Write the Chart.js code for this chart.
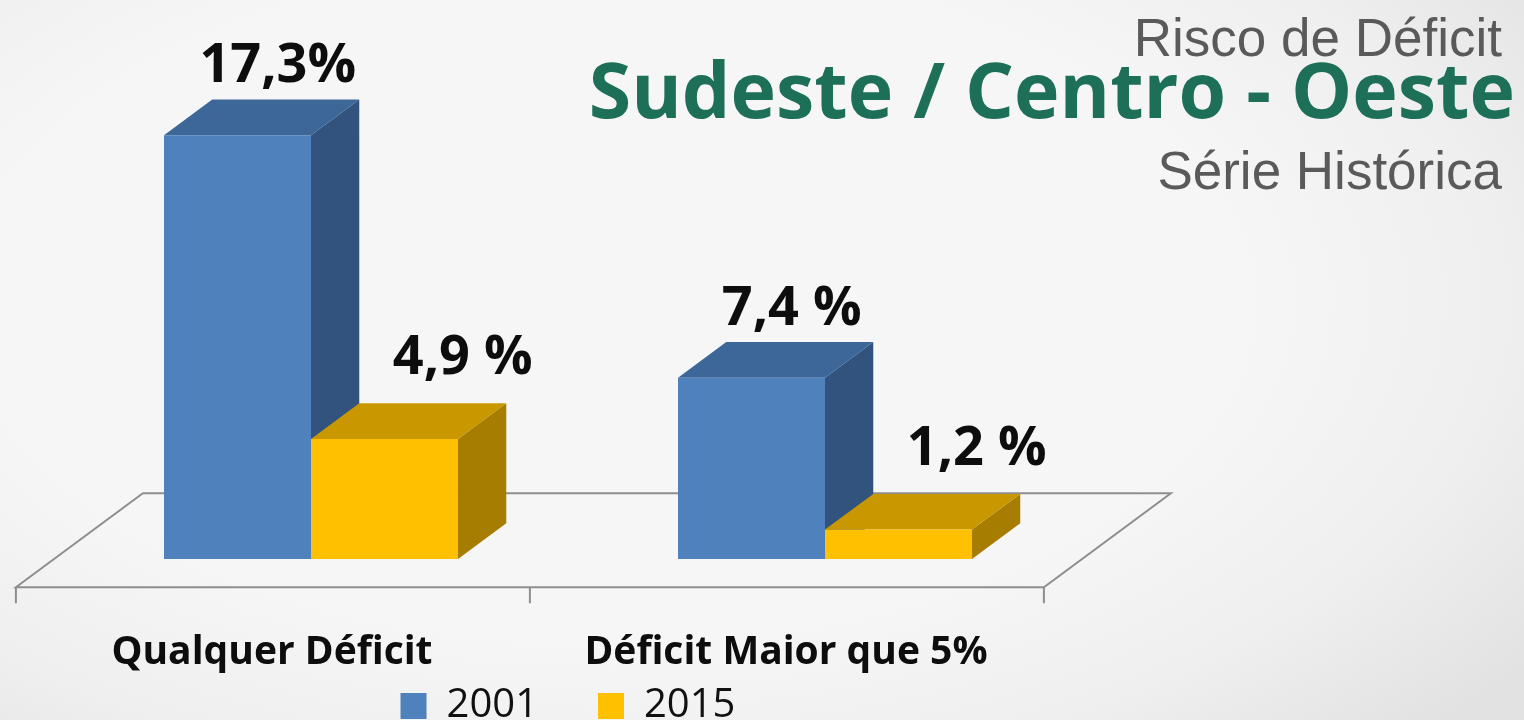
<!DOCTYPE html>
<html>
<head>
<meta charset="utf-8">
<script src="https://cdn.jsdelivr.net/npm/chart.js@4.4.1/dist/chart.umd.min.js"></script>
<style>
  html, body { margin:0; padding:0; }
  body {
    width:1524px; height:720px; overflow:hidden; position:relative;
    background: radial-gradient(ellipse 75% 85% at 40% 42%, #F6F6F6 55%, #EFEFEF 78%, #E2E2E2 100%);
  }
  #c { position:absolute; left:0; top:0; }
  .t { position:absolute; white-space:nowrap; text-align:right; }
  .gray { font-family:"Liberation Sans", Arial, sans-serif; font-size:53px; line-height:53px; color:#5A5A5A; right:22px; }
  .green { font-family:"Open Sans", sans-serif; font-weight:700; font-size:77px; line-height:77px; color:#1D6F58; right:9px; }
</style>
</head>
<body>
<canvas id="c" width="1524" height="720"></canvas>
<div class="t gray" style="top:11px;">Risco de Déficit</div>
<div class="t green" style="top:50px;">Sudeste / Centro - Oeste</div>
<div class="t gray" style="top:144px;">Série Histórica</div>
<script>
// ---- data ----
const categories = ['Qualquer Déficit', 'Déficit Maior que 5%'];
const seriesNames = ['2001', '2015'];
const values2001 = [17.3, 7.4];
const values2015 = [4.9, 1.2];
const valueLabels2001 = ['17,3%', '7,4 %'];
const valueLabels2015 = ['4,9 %', '1,2 %'];
const yMin = 0, yMax = 20;

// ---- 3D look (style) ----
const DEPTH_X = 127, DEPTH_Y = -94;   // full floor depth vector
const FRONT_FRAC = 0.30;              // bars' front face distance from floor front
const BAR_FRAC = 0.38;                // bar depth as fraction of floor depth

const threeD = {
  id: 'threeD',
  afterLayout(chart) {
    // let the category labels extend below the axis box (they sit beside the legend)
    chart.scales.x.bottom = chart.height;
  },
  beforeDatasetsDraw(chart) {
    const ctx = chart.ctx, xs = chart.scales.x, ys = chart.scales.y;
    const base = ys.getPixelForValue(0);
    const fx = -DEPTH_X * FRONT_FRAC, fy = -DEPTH_Y * FRONT_FRAC;
    const bx = DEPTH_X * (1 - FRONT_FRAC), by = DEPTH_Y * (1 - FRONT_FRAC);
    const n = chart.data.labels.length;
    const L = xs.getPixelForValue(-0.5), R = xs.getPixelForValue(n - 0.5);
    ctx.save();
    ctx.strokeStyle = '#8E8E8E';
    ctx.lineWidth = 2;
    ctx.lineJoin = 'miter';
    ctx.beginPath();
    ctx.moveTo(L + fx, base + fy);
    ctx.lineTo(L + bx, base + by);
    ctx.lineTo(R + bx, base + by);
    ctx.lineTo(R + fx, base + fy);
    ctx.closePath();
    for (let i = 0; i <= n; i++) {
      const x = xs.getPixelForValue(i - 0.5) + fx;
      ctx.moveTo(x, base + fy);
      ctx.lineTo(x, base + fy + 16);
    }
    ctx.stroke();
    // side and top faces, drawn back-to-front (left to right)
    const dx = DEPTH_X * BAR_FRAC, dy = DEPTH_Y * BAR_FRAC;
    for (let j = 0; j < n; j++) {
      chart.data.datasets.forEach((ds, i) => {
        const el = chart.getDatasetMeta(i).data[j];
        const l = el.x - el.width / 2, r = el.x + el.width / 2, t = el.y, b = el.base;
        ctx.fillStyle = ds.sideColor;
        ctx.beginPath();
        ctx.moveTo(r, t); ctx.lineTo(r + dx, t + dy); ctx.lineTo(r + dx, b + dy); ctx.lineTo(r, b);
        ctx.closePath(); ctx.fill();
        ctx.fillStyle = ds.topColor;
        ctx.beginPath();
        ctx.moveTo(l, t); ctx.lineTo(r, t); ctx.lineTo(r + dx, t + dy); ctx.lineTo(l + dx, t + dy);
        ctx.closePath(); ctx.fill();
      });
    }
    ctx.restore();
  },
  afterDatasetsDraw(chart) {
    const ctx = chart.ctx;
    const dx = DEPTH_X * BAR_FRAC, dy = DEPTH_Y * BAR_FRAC;
    ctx.save();
    ctx.font = 'bold 54px "Open Sans"';
    ctx.fillStyle = '#0D0D0D';
    ctx.textAlign = 'center';
    ctx.textBaseline = 'alphabetic';
    chart.data.datasets.forEach((ds, i) => {
      chart.getDatasetMeta(i).data.forEach((el, j) => {
        const cx = el.x + dx + ds.labelShift;
        const y = el.y + dy - ds.labelGap;
        ctx.fillText(ds.valueLabels[j], cx, y);
      });
    });
    ctx.restore();
  }
};

function draw() {
  new Chart(document.getElementById('c'), {
    type: 'bar',
    data: {
      labels: categories,
      datasets: [
        { label: seriesNames[0], data: values2001, backgroundColor: '#4F81BD', borderWidth: 0,
          topColor: '#3D6699', sideColor: '#31537E', valueLabels: valueLabels2001, labelShift: -8, labelGap: 17 },
        { label: seriesNames[1], data: values2015, backgroundColor: '#FFC000', borderWidth: 0,
          topColor: '#C99800', sideColor: '#A67D00', valueLabels: valueLabels2015, labelShift: 30, labelGap: 29 }
      ]
    },
    options: {
      responsive: false,
      animation: false,
      events: [],
      datasets: { bar: { barPercentage: 1.0, categoryPercentage: 0.572 } },
      layout: { padding: { left: 54, right: 442, top: 69, bottom: -16 } },
      scales: {
        x: {
          grid: { display: false },
          border: { display: false },
          ticks: {
            font: { family: 'Open Sans', weight: 'bold', size: 39 },
            color: '#0D0D0D', padding: 62, labelOffset: -39,
            maxRotation: 0, autoSkip: false
          },
          afterFit(s) { s.height = 67; }
        },
        y: { display: false, min: yMin, max: yMax }
      },
      plugins: {
        legend: {
          position: 'bottom',
          labels: {
            boxWidth: 26, boxHeight: 26, padding: 60,
            font: { family: 'Open Sans', size: 40 }, color: '#111111'
          }
        },
        tooltip: { enabled: false }
      }
    },
    plugins: [threeD]
  });
}

Promise.all([
  document.fonts.load('bold 54px "Open Sans"'),
  document.fonts.load('40px "Open Sans"'),
  document.fonts.load('53px "Liberation Sans"')
]).then(draw, draw);
</script>
</body>
</html>
